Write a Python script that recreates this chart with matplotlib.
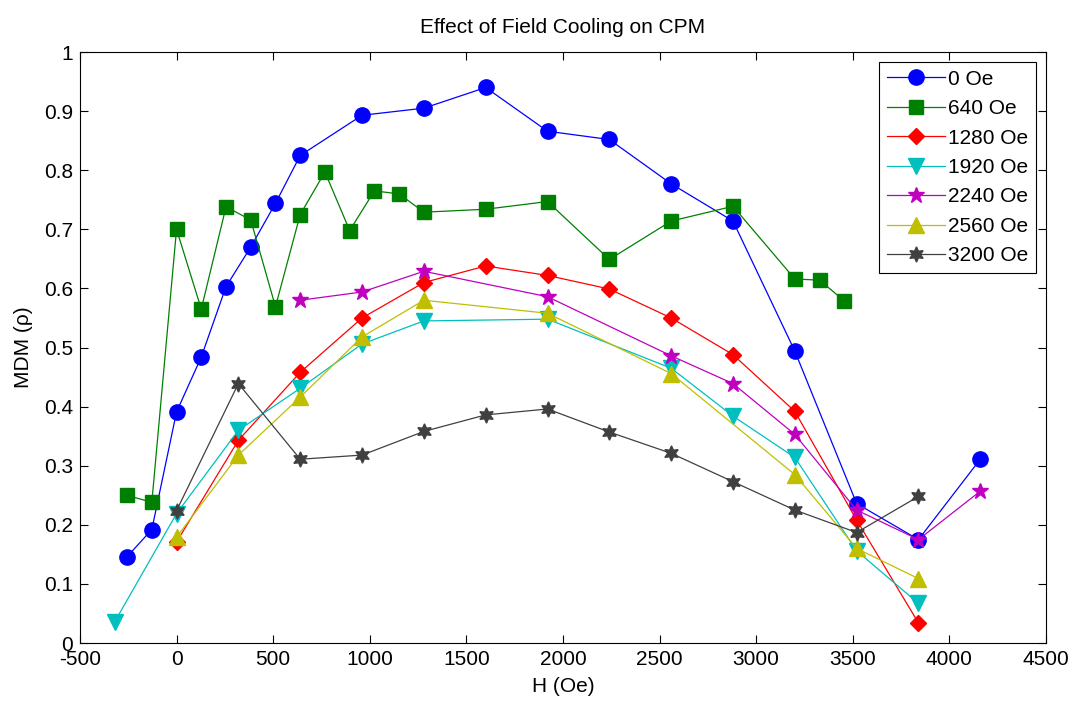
import matplotlib
matplotlib.use("Agg")
import matplotlib.pyplot as plt

plt.rcParams['font.family'] = ['Liberation Sans', 'DejaVu Sans']

# field values (Oe) and MDM values for each cooling field
h_0 = [-256, -128, 0, 128, 256, 384, 512, 640, 960, 1280, 1600, 1920, 2240, 2560, 2880, 3200, 3520, 3840, 4160]
m_0 = [0.146, 0.192, 0.391, 0.484, 0.603, 0.670, 0.744, 0.825, 0.893, 0.905, 0.940, 0.866, 0.852, 0.777, 0.714, 0.494, 0.236, 0.175, 0.311]

h_640 = [-256, -128, 0, 128, 256, 384, 512, 640, 768, 896, 1024, 1152, 1280, 1600, 1920, 2240, 2560, 2880, 3200, 3328, 3456]
m_640 = [0.250, 0.238, 0.700, 0.565, 0.738, 0.716, 0.569, 0.725, 0.797, 0.698, 0.765, 0.760, 0.729, 0.734, 0.747, 0.649, 0.714, 0.739, 0.616, 0.614, 0.579]

h_1280 = [0, 320, 640, 960, 1280, 1600, 1920, 2240, 2560, 2880, 3200, 3520, 3840]
m_1280 = [0.171, 0.343, 0.458, 0.550, 0.610, 0.638, 0.622, 0.599, 0.550, 0.488, 0.392, 0.208, 0.034]

h_1920 = [-320, 0, 320, 640, 960, 1280, 1920, 2560, 2880, 3200, 3520, 3840]
m_1920 = [0.036, 0.219, 0.360, 0.431, 0.506, 0.545, 0.548, 0.465, 0.384, 0.314, 0.156, 0.067]

h_2240 = [640, 960, 1280, 1920, 2560, 2880, 3200, 3520, 3840, 4160]
m_2240 = [0.580, 0.594, 0.629, 0.586, 0.486, 0.439, 0.353, 0.225, 0.175, 0.257]

h_2560 = [0, 320, 640, 960, 1280, 1920, 2560, 3200, 3520, 3840]
m_2560 = [0.179, 0.318, 0.416, 0.518, 0.580, 0.558, 0.456, 0.285, 0.160, 0.109]

h_3200 = [0, 320, 640, 960, 1280, 1600, 1920, 2240, 2560, 2880, 3200, 3520, 3840]
m_3200 = [0.224, 0.439, 0.311, 0.318, 0.358, 0.386, 0.396, 0.357, 0.321, 0.273, 0.225, 0.187, 0.248]

labels = ['0 Oe', '640 Oe', '1280 Oe', '1920 Oe', '2240 Oe', '2560 Oe', '3200 Oe']
xticks = list(range(-500, 4501, 500))
yticks = [0, 0.1, 0.2, 0.3, 0.4, 0.5, 0.6, 0.7, 0.8, 0.9, 1]

fig = plt.figure(figsize=(10.76, 7.06), dpi=100)
ax = fig.add_axes([0.0743, 0.0892, 0.8978, 0.8371])

series = [
    (h_0, m_0, '#0000ff', 'o', 11),
    (h_640, m_640, '#008000', 's', 9.5),
    (h_1280, m_1280, '#ff0000', 'D', 8.5),
    (h_1920, m_1920, '#00bfbf', 'v', 11),
    (h_2240, m_2240, '#bf00bf', '*', 12),
    (h_2560, m_2560, '#bfbf00', '^', 11),
    (h_3200, m_3200, '#404040', (6, 1, 0), 11),
]
for (x, y, c, mk, ms), lab in zip(series, labels):
    ax.plot(x, y, color=c, marker=mk, markersize=ms, markerfacecolor=c,
            markeredgecolor=c, lw=0.9, label=lab)

ax.set_xlim(-500, 4500)
ax.set_ylim(0, 1)
ax.set_xticks(xticks)
ax.set_xticklabels([str(t) for t in xticks])
ax.set_yticks(yticks)
ax.set_yticklabels(['%g' % t for t in yticks])
ax.tick_params(direction='in', top=True, right=True, labelsize=15, length=6, width=0.8)
ax.tick_params(axis='x', pad=5)
ax.tick_params(axis='y', pad=5)
for s in ax.spines.values():
    s.set_linewidth(0.8)

ax.set_title('Effect of Field Cooling on CPM', fontsize=15, pad=14)
ax.set_xlabel('H (Oe)', fontsize=15, labelpad=6)
ax.set_ylabel('MDM (\u03c1)', fontsize=15, labelpad=8)

leg = ax.legend(loc='upper right', fontsize=15, fancybox=False, framealpha=1,
                edgecolor='black', borderaxespad=0.5, handlelength=2.8,
                handletextpad=0.15, labelspacing=0.5, borderpad=0.35)
leg.get_frame().set_linewidth(0.8)

fig.savefig('out.png', dpi=100)
